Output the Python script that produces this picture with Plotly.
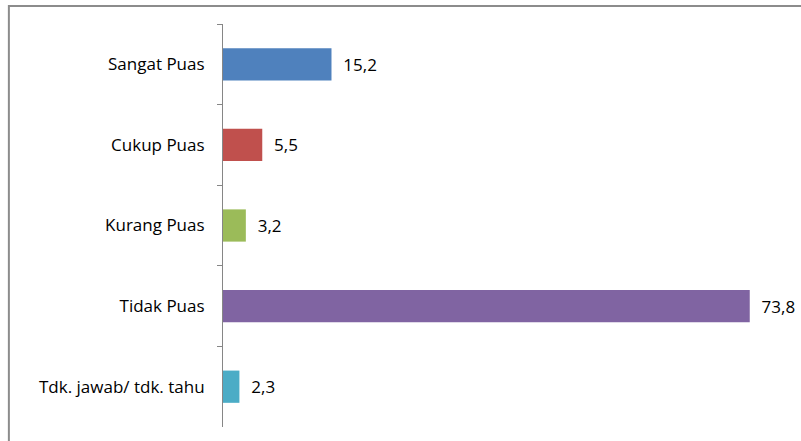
import plotly.graph_objects as go

categories = ["Sangat Puas", "Cukup Puas", "Kurang Puas", "Tidak Puas", "Tdk. jawab/ tdk. tahu"]
values = [15.2, 5.5, 3.2, 73.8, 2.3]
colors = ["#4F81BD", "#C0504D", "#9BBB59", "#8064A2", "#4BACC6"]
labels = ["\u00a0\u00a0" + f"{v:.1f}".replace(".", ",") for v in values]

fig = go.Figure(go.Bar(
    x=values, y=categories, orientation="h",
    marker=dict(color=colors, line=dict(width=0)),
    text=labels, textposition="outside", cliponaxis=False,
    textfont=dict(family="Open Sans", size=17, color="#000000"),
    hoverinfo="skip",
))

fig.update_layout(
    width=801, height=441,
    margin=dict(l=223, r=7, t=24, b=14),
    paper_bgcolor="white", plot_bgcolor="white",
    bargap=0.6, showlegend=False,
    font=dict(family="Open Sans", size=17, color="#000000"),
    xaxis=dict(range=[0, 80], visible=False, automargin=False),
    yaxis=dict(autorange="reversed", showline=True, linecolor="#868686", linewidth=1,
               ticks="outside", tickson="boundaries", ticklen=5, tickcolor="#868686",
               ticklabelstandoff=14, showgrid=False, automargin=False),
    shapes=[dict(type="rect", xref="paper", yref="paper", x0=-0.375, x1=1.05, y0=-0.1, y1=1.0447,
                 line=dict(color="#8C8C8C", width=2), layer="below")],
)

fig.write_html("out.html", config={"displayModeBar": False},
               post_script="document.body.style.margin='0';document.body.style.overflow='hidden';")
